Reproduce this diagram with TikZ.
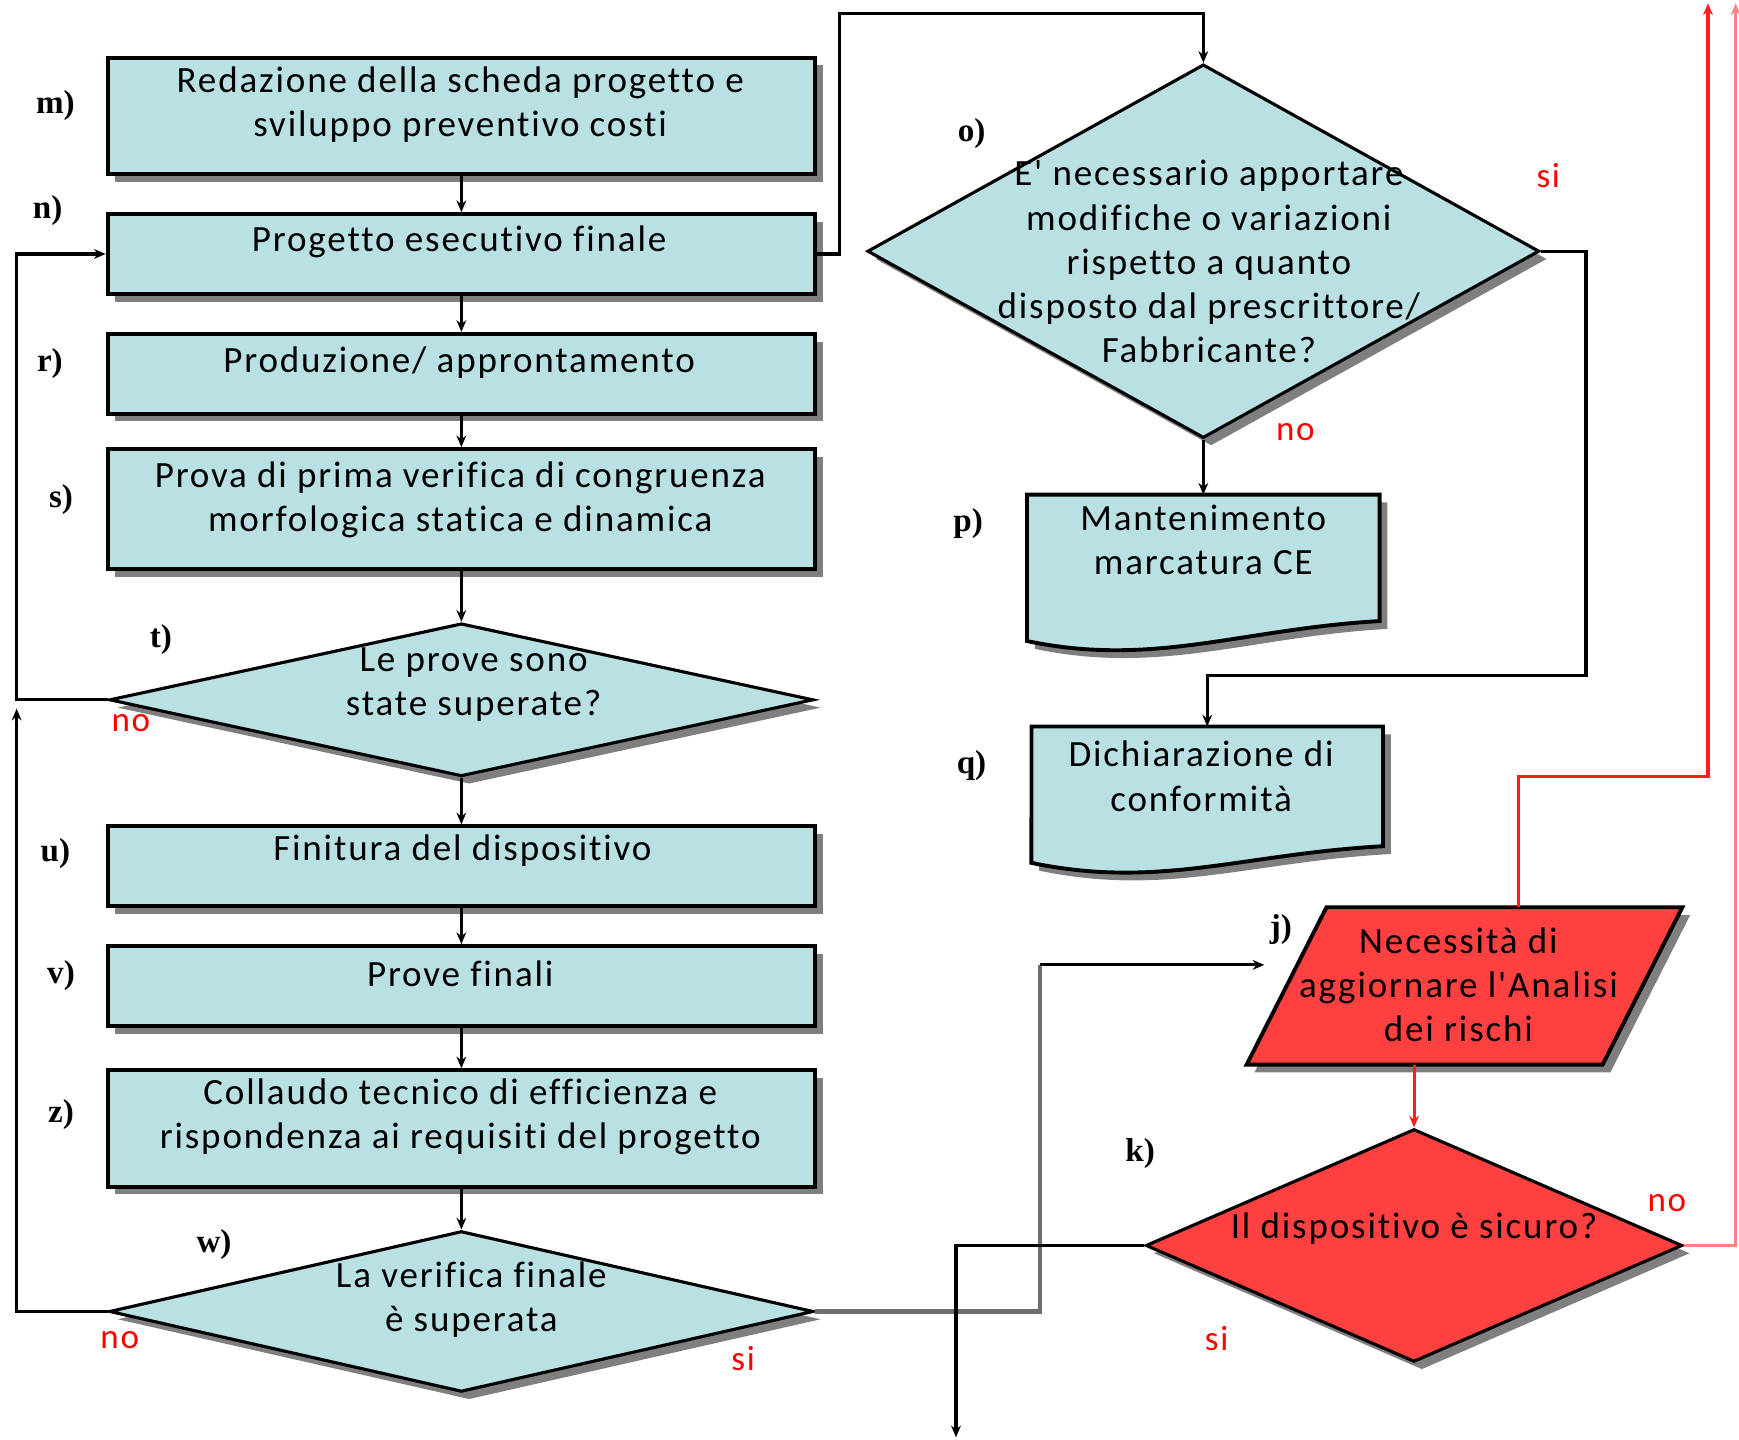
\documentclass[tikz,border=0pt]{standalone}
\usepackage{fontspec}
\setmainfont{Carlito}
\newfontfamily\boxfont[LetterSpace=5,Ligatures=NoCommon]{Carlito}
\newfontfamily\lblfont{Liberation Serif}
\usetikzlibrary{shapes.geometric,arrows.meta,shadows,calc}
\definecolor{boxfill}{RGB}{185,224,226}
\definecolor{redfill}{RGB}{255,64,64}
\definecolor{linkred}{RGB}{255,30,30}
\definecolor{lightred}{RGB}{255,130,130}
\definecolor{graylink}{RGB}{110,110,110}
\begin{document}
\begin{tikzpicture}[x=0.02cm,y=-0.02cm,
 shd/.style={drop shadow={shadow xshift=4pt,shadow yshift=-4pt,opacity=0.5,fill=black}},
 box/.style={rectangle,draw=black,line width=2pt,fill=boxfill,minimum width=12.76cm,inner sep=0pt,shd},
 dec/.style={diamond,draw=black,line width=1.6pt,fill=boxfill,inner sep=0pt,shd},
 reddec/.style={dec,fill=redfill},
 ghost/.style={rectangle,inner sep=0pt,outer sep=0pt},
 outline/.style={draw=black,line width=2pt,fill=boxfill,shd},
 txt/.style={font=\boxfont\fontsize{19}{22.7}\selectfont,align=center,inner sep=0pt,text=black},
 lbl/.style={font=\lblfont\bfseries\fontsize{17}{20}\selectfont,inner sep=0pt},
 ans/.style={font=\boxfont\fontsize{18}{20}\selectfont,text=red,inner sep=0pt},
 conn/.style={draw=black,line width=1.6pt,-{Stealth[length=6pt,width=5pt]}},
 redconn/.style={draw=linkred,line width=1.6pt,-{Stealth[length=6pt,width=5pt]}},
 lightredconn/.style={draw=lightred,line width=1.6pt,-{Stealth[length=6pt,width=5pt]}}
]
\useasboundingbox (0,0) rectangle (1568,1298);

% left column
\node[box,minimum height=2.1cm] (m) at (416,104.5) {};
\node[box,minimum height=1.44cm] (n) at (416,229) {};
\node[box,minimum height=1.44cm] (r) at (416,337) {};
\node[box,minimum height=2.16cm] (s) at (416,459) {};
\node[dec,minimum width=12.7cm,minimum height=2.76cm] (t) at (416,631) {};
\node[box,minimum height=1.44cm] (u) at (416,781) {};
\node[box,minimum height=1.44cm] (v) at (416,889) {};
\node[box,minimum height=2.1cm] (z) at (416,1017.5) {};
\node[dec,minimum width=12.7cm,minimum height=2.9cm] (w) at (416,1182.5) {};

% right column
\node[dec,minimum width=12.12cm,minimum height=6.74cm] (o) at (1085,226.5) {};
\node[ghost,minimum width=6.36cm,minimum height=2.78cm] (p) at (1085,515.5) {};
\path[outline] (p.north west) -- (p.north east) -- (1244,560) .. controls (1120,567) and (1040,602) .. (926,578) -- cycle;
\node[ghost,minimum width=6.34cm,minimum height=2.6cm] (q) at (1088.5,720) {};
\path[outline] (q.north west) -- (q.north east) -- (1247,763) .. controls (1120,770) and (1045,802) .. (930,778) -- cycle;
\node[ghost,minimum width=7.86cm,minimum height=2.84cm] (j) at (1320.5,889) {};
\path[outline,fill=redfill] ($(j.north west)+(72,0)$) -- (j.north east) -- ($(j.south east)+(-72,0)$) -- (j.south west) -- cycle;
\node[reddec,minimum width=9.68cm,minimum height=4.2cm] (k) at (1275,1123) {};

% texts
\node[txt] (mt) at (415,94) {Redazione della scheda progetto e\\sviluppo preventivo costi};
\node[txt] (nt) at (414,218) {Progetto esecutivo finale};
\node[txt] (rt) at (414,327) {Produzione/ approntamento};
\node[txt] (st) at (415,451) {Prova di prima verifica di congruenza\\morfologica statica e dinamica};
\node[txt] (tt) at (427,617) {Le prove sono\\state superate?};
\node[txt] (ut) at (417,767) {Finitura del dispositivo};
\node[txt] (vt) at (415,878) {Prove finali};
\node[txt] (zt) at (415,1007) {Collaudo tecnico di efficienza e\\rispondenza ai requisiti del progetto};
\node[txt] (wt) at (425,1172) {La verifica finale\\è superata};
\node[txt] (ot) at (1090,236) {E' necessario apportare\\modifiche o variazioni\\rispetto a quanto\\disposto dal prescrittore/\\Fabbricante?};
\node[txt] (pt) at (1085,487) {Mantenimento\\marcatura CE};
\node[txt] (qt) at (1083,700) {Dichiarazione di\\conformità};
\node[txt] (jt) at (1315,888) {Necessità di\\aggiornare l'Analisi\\dei rischi};
\node[txt] (kt) at (1275,1108) {Il dispositivo è sicuro?};

% step labels
\node[lbl] (lm) at (50,95) {m)};
\node[lbl] (ln) at (43,190) {n)};
\node[lbl] (lr) at (45,328) {r)};
\node[lbl] (ls) at (55,450) {s)};
\node[lbl] (lt) at (145,577) {t)};
\node[lbl] (lu) at (50,770) {u)};
\node[lbl] (lv) at (55,880) {v)};
\node[lbl] (lz) at (55,1005) {z)};
\node[lbl] (lw) at (193,1122) {w)};
\node[lbl] (lo) at (876,120) {o)};
\node[lbl] (lp) at (873,472) {p)};
\node[lbl] (lq) at (876,690) {q)};
\node[lbl] (lj) at (1155,838) {j)};
\node[lbl] (lk) at (1028,1040) {k)};

% answers
\node[ans] (a1) at (1396,158) {si};
\node[ans] (a2) at (1168,390) {no};
\node[ans] (a3) at (118,652) {no};
\node[ans] (a4) at (108,1208) {no};
\node[ans] (a5) at (670,1225) {si};
\node[ans] (a6) at (1503,1085) {no};
\node[ans] (a7) at (1097,1207) {si};

% connectors
\draw[conn] (m.south) -- (n.north);
\draw[conn] (n.south) -- (r.north);
\draw[conn] (r.south) -- (s.north);
\draw[conn] (s.south) -- (t.north);
\draw[conn] (t.south) -- (u.north);
\draw[conn] (u.south) -- (v.north);
\draw[conn] (v.south) -- (z.north);
\draw[conn] (z.south) -- (w.north);

\coordinate (loopx) at (15,0);
\draw[conn] (t.west) -- (t.west -| loopx) |- (n.west);
\draw[conn] (w.west) -| ($(t.west -| loopx)+(0,8)$);

\coordinate (ntop) at (757,12);
\draw[conn] (n.east) -| (ntop) -| (o.north);
\draw[conn] (o.south) -- (p.north);
\coordinate (ofold) at (1430,609);
\draw[conn] (o.east) -| (ofold) -| (q.north);

\coordinate (wj) at (938,870);
\coordinate (jin) at (1140,870);
\draw[line width=2.2pt,draw=graylink] (w.east) -| (wj);
\draw[conn] (wj) -- (jin);

\draw[redconn] (k.north |- j.south) -- (k.north);
\coordinate (jexit) at ($(j.north west)+(245,0)$);
\coordinate (rc) at (1540,700);
\coordinate (redtop) at (1540,3);
\draw[redconn] (jexit) |- (rc) -- (redtop);
\coordinate (kedge) at (1565,3);
\draw[lightredconn] (k.east) -| (kedge);
\coordinate (kout) at (862,1296);
\draw[conn] (k.west) -| (kout);
\end{tikzpicture}
\end{document}
